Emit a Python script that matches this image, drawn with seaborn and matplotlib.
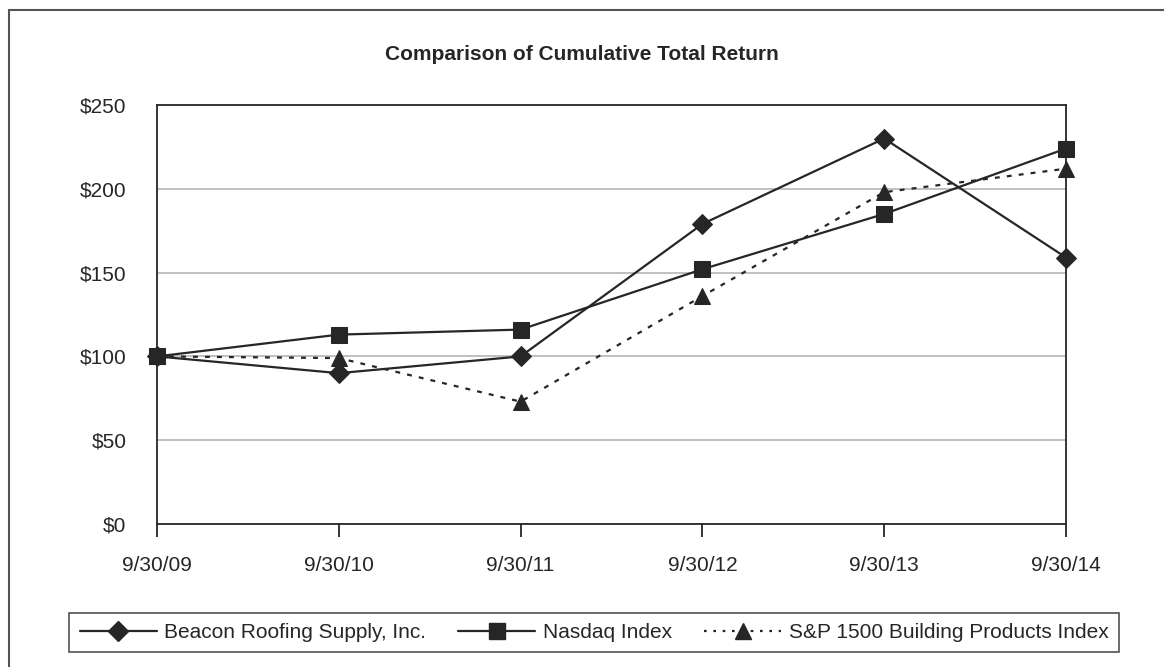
import numpy as np
import pandas as pd
import seaborn as sns
import matplotlib.pyplot as plt
from matplotlib.patches import Rectangle
from matplotlib.lines import Line2D

# DATA
dates = ["9/30/09", "9/30/10", "9/30/11", "9/30/12", "9/30/13", "9/30/14"]
beacon = [100, 90, 100, 179, 230, 159]
nasdaq = [100, 113, 116, 152, 185, 224]
sp1500 = [100, 99, 73, 136, 198, 212]
series_names = ["Beacon Roofing Supply, Inc.", "Nasdaq Index",
                "S&P 1500 Building Products Index"]
y_ticks = [0, 50, 100, 150, 200, 250]

df = pd.DataFrame({
    "x": list(range(len(dates))) * 3,
    "value": beacon + nasdaq + sp1500,
    "series": np.repeat(series_names, len(dates)),
})

sns.set_theme(style="white")
plt.rcParams["font.family"] = ["Liberation Sans", "DejaVu Sans"]

ink = "#262626"
FS = 15
dash_pat = (2.2, 3.2)
mk = {series_names[0]: "D", series_names[1]: "s", series_names[2]: "^"}
msz = {series_names[0]: 10, series_names[1]: 11, series_names[2]: 12}

fig = plt.figure(figsize=(11.64, 6.67), dpi=100)
ax = fig.add_axes([157 / 1164, 1 - 524 / 667, (1066 - 157) / 1164, (524 - 105) / 667])

sns.lineplot(
    data=df, x="x", y="value", hue="series", style="series",
    palette={n: ink for n in series_names},
    markers=mk,
    dashes={series_names[0]: "", series_names[1]: "", series_names[2]: dash_pat},
    markersize=11, linewidth=1.6, markeredgecolor=ink, legend=False, ax=ax,
)
for line, name in zip(ax.get_lines(), series_names):
    line.set_clip_on(False)
    line.set_markersize(msz[name])

ax.set_xlim(0, len(dates) - 1)
ax.set_ylim(0, 250)
ax.set_xticks(range(len(dates)))
ax.set_xticklabels(dates, fontsize=FS, color=ink)
ax.set_yticks(y_ticks)
ax.set_yticklabels([f"${v}" for v in y_ticks], fontsize=FS, color=ink)
ax.set_xlabel("")
ax.set_ylabel("")
ax.grid(axis="y", color="#b5b5b5", linewidth=1.2)
ax.set_axisbelow(True)
for s in ax.spines.values():
    s.set_color(ink)
    s.set_linewidth(1.3)
ax.tick_params(axis="x", direction="out", length=9, width=1.3, color=ink, pad=14, bottom=True)
ax.tick_params(axis="y", length=0, pad=22)

fig.text(0.5, 1 - 54 / 667, "Comparison of Cumulative Total Return",
         ha="center", va="center", fontsize=FS, fontweight="bold", color=ink)

# legend
handles = [
    Line2D([], [], color=ink, lw=1.6, marker=mk[series_names[0]], markersize=msz[series_names[0]]),
    Line2D([], [], color=ink, lw=1.6, marker=mk[series_names[1]], markersize=msz[series_names[1]]),
    Line2D([], [], color=ink, lw=1.6, marker=mk[series_names[2]], markersize=msz[series_names[2]],
           dashes=(1.2, 3)),
]
leg = fig.legend(handles, series_names, loc="center", ncol=3,
                 bbox_to_anchor=(594 / 1164, 1 - 632.5 / 667), frameon=True,
                 fancybox=False, edgecolor=ink, fontsize=FS, handlelength=3.7,
                 numpoints=1, columnspacing=1.55, handletextpad=0.35,
                 borderpad=0.5, borderaxespad=0)
leg.get_frame().set_linewidth(1.2)
for t in leg.get_texts():
    t.set_color(ink)

# outer frame (cropped at right and bottom in the original)
fig.patches.append(Rectangle((9 / 1164, -0.05), 1.1, 1.05 - 10 / 667,
                             transform=fig.transFigure, fill=False,
                             edgecolor="#555555", linewidth=1.5))

fig.savefig("out.png", dpi=100)
